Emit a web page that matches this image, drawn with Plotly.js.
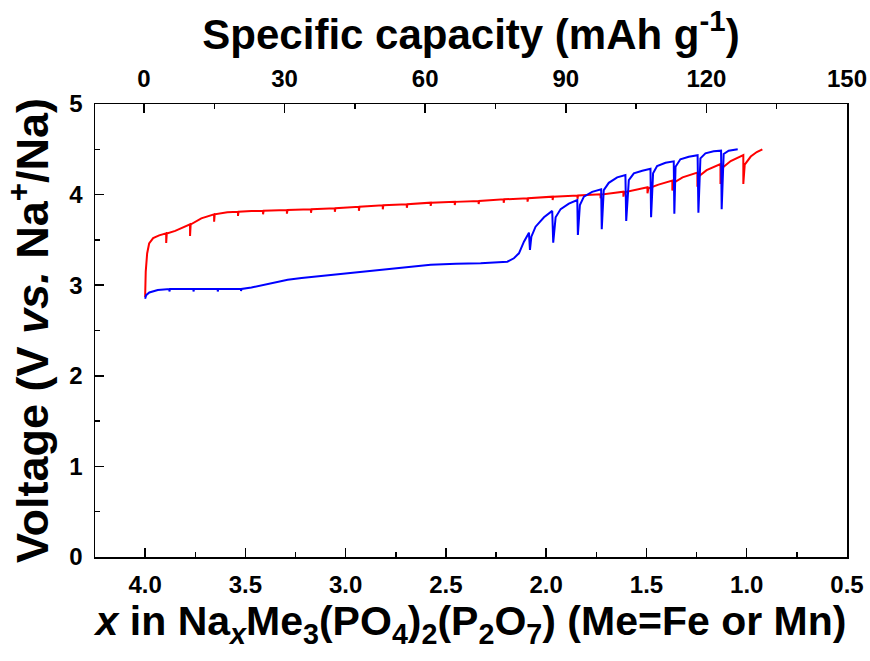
<!DOCTYPE html>
<html>
<head>
<meta charset="utf-8">
<script src="https://cdn.plot.ly/plotly-3.0.1.min.js"></script>
<style>html,body{margin:0;padding:0;background:#fff;}#plot{width:870px;height:661px;}</style>
</head>
<body>
<div id="plot"></div>
<script>
// Red curve (x in NaxMe3(PO4)2(P2O7), Voltage)
const redX = [4.000,3.997,3.990,3.980,3.960,3.930,3.895,3.895,3.892,3.850,3.810,3.776,3.776,3.773,3.720,3.656,3.656,3.653,3.590,3.537,3.537,3.534,3.470,3.412,3.412,3.409,3.293,3.293,3.290,3.173,3.173,3.170,3.054,3.054,3.051,2.934,2.934,2.931,2.815,2.815,2.812,2.695,2.695,2.692,2.576,2.576,2.573,2.456,2.456,2.453,2.337,2.337,2.334,2.212,2.212,2.209,2.093,2.093,2.090,1.968,1.968,1.965,1.844,1.844,1.841,1.729,1.729,1.726,1.615,1.615,1.611,1.495,1.495,1.490,1.440,1.371,1.371,1.365,1.320,1.246,1.246,1.240,1.200,1.131,1.131,1.124,1.080,1.017,1.017,1.010,0.980,0.950,0.922];
const redV = [2.87,3.15,3.35,3.46,3.52,3.55,3.573,3.466,3.570,3.60,3.64,3.672,3.543,3.670,3.738,3.783,3.701,3.783,3.805,3.811,3.764,3.811,3.818,3.822,3.783,3.822,3.830,3.790,3.830,3.838,3.800,3.838,3.849,3.810,3.849,3.866,3.822,3.866,3.882,3.838,3.882,3.893,3.855,3.893,3.911,3.875,3.911,3.920,3.885,3.920,3.930,3.895,3.930,3.948,3.910,3.948,3.959,3.922,3.959,3.977,3.940,3.977,3.990,3.953,3.990,4.003,3.960,4.000,4.032,3.977,4.025,4.080,4.014,4.070,4.110,4.154,4.044,4.130,4.190,4.242,4.087,4.200,4.270,4.338,4.118,4.290,4.370,4.437,4.117,4.330,4.420,4.470,4.500];

// Blue curve
const blueX = [4.000,3.995,3.979,3.937,3.879,3.879,3.876,3.759,3.759,3.756,3.638,3.638,3.635,3.522,3.522,3.519,3.470,3.406,3.350,3.289,3.220,3.157,3.040,2.908,2.808,2.692,2.576,2.450,2.327,2.194,2.161,2.136,2.111,2.086,2.081,2.074,2.053,2.011,1.970,1.965,1.953,1.928,1.887,1.845,1.842,1.832,1.812,1.771,1.726,1.723,1.713,1.688,1.646,1.605,1.601,1.588,1.563,1.521,1.480,1.477,1.467,1.447,1.405,1.364,1.361,1.355,1.331,1.289,1.245,1.241,1.231,1.206,1.165,1.128,1.125,1.115,1.090,1.045];
const blueV = [2.85,2.89,2.92,2.947,2.958,2.93,2.958,2.958,2.93,2.958,2.958,2.93,2.958,2.958,2.935,2.958,2.975,3.005,3.035,3.060,3.080,3.094,3.120,3.149,3.175,3.204,3.225,3.238,3.242,3.259,3.297,3.352,3.480,3.580,3.389,3.535,3.646,3.750,3.820,3.470,3.750,3.840,3.900,3.940,3.554,3.885,3.977,4.030,4.058,3.617,4.050,4.130,4.190,4.216,3.710,4.160,4.235,4.264,4.286,3.750,4.235,4.316,4.352,4.367,3.790,4.308,4.390,4.418,4.434,3.800,4.400,4.456,4.478,4.485,3.838,4.448,4.485,4.500];

// Axis ticks
const xTicks = [4.0,3.5,3.0,2.5,2.0,1.5,1.0,0.5];
const xTickText = ['4.0','3.5','3.0','2.5','2.0','1.5','1.0','0.5'];
const capTicks = [0,30,60,90,120,150];
const vTicks = [0,1,2,3,4,5];

const FONT = 'Liberation Sans, Arial, Helvetica, sans-serif';
const tickFont = {family: FONT, size: 24, color: '#000', weight: 'bold'};

const traces = [
  {x: redX, y: redV, type: 'scatter', mode: 'lines', line: {color: '#ff0000', width: 2}, showlegend: false, hoverinfo: 'skip'},
  {x: blueX, y: blueV, type: 'scatter', mode: 'lines', line: {color: '#0000ff', width: 2}, showlegend: false, hoverinfo: 'skip'},
  {x: capTicks, y: capTicks.map(() => null), xaxis: 'x2', type: 'scatter', mode: 'lines', showlegend: false, hoverinfo: 'skip'}
];

const layout = {
  width: 870, height: 661,
  margin: {l: 95, r: 23, t: 104, b: 104, pad: 0},
  paper_bgcolor: '#fff', plot_bgcolor: '#fff',
  showlegend: false,
  xaxis: {
    range: [4.25, 0.5], tickvals: xTicks, ticktext: xTickText,
    ticks: 'inside', ticklen: 9, tickwidth: 1.5, tickcolor: '#000',
    minor: {dtick: 0.25, tick0: 0, ticks: 'inside', ticklen: 5, tickwidth: 1.5, tickcolor: '#000'},
    showline: true, linewidth: 1.5, linecolor: '#000', showgrid: false, zeroline: false,
    tickfont: tickFont, ticklabelstandoff: 6,
    title: {text: '<i>x</i> in Na<sub><i>x</i></sub>Me<sub>3</sub>(PO<sub>4</sub>)<sub>2</sub>(P<sub>2</sub>O<sub>7</sub>) (Me=Fe or Mn)',
            font: {family: FONT, size: 41, color: '#000', weight: 'bold'}, standoff: 8}
  },
  xaxis2: {
    overlaying: 'x', side: 'top', range: [-10.45, 150], tickvals: capTicks,
    ticks: 'inside', ticklen: 9, tickwidth: 1.5, tickcolor: '#000',
    minor: {dtick: 15, tick0: 0, ticks: 'inside', ticklen: 5, tickwidth: 1.5, tickcolor: '#000'},
    showline: true, linewidth: 1.5, linecolor: '#000', showgrid: false, zeroline: false,
    tickfont: tickFont, ticklabelstandoff: 6,
    title: {text: 'Specific capacity (mAh g<sup>-1</sup>)', font: {family: FONT, size: 42, color: '#000', weight: 'bold'}, standoff: 2}
  },
  yaxis: {
    range: [0, 5], tickvals: vTicks,
    ticks: 'inside', ticklen: 9, tickwidth: 1.5, tickcolor: '#000',
    minor: {dtick: 0.5, tick0: 0, ticks: 'inside', ticklen: 5, tickwidth: 1.5, tickcolor: '#000'},
    showline: true, mirror: true, linewidth: 1.5, linecolor: '#000', showgrid: false, zeroline: false,
    tickfont: tickFont, ticklabelstandoff: 6,
    title: {text: 'Voltage (V <i>vs.</i> Na<sup>+</sup>/Na)', font: {family: FONT, size: 45, color: '#000', weight: 'bold'}, standoff: 6}
  }
};

Plotly.newPlot('plot', traces, layout, {displayModeBar: false, staticPlot: true});
</script>
</body>
</html>
